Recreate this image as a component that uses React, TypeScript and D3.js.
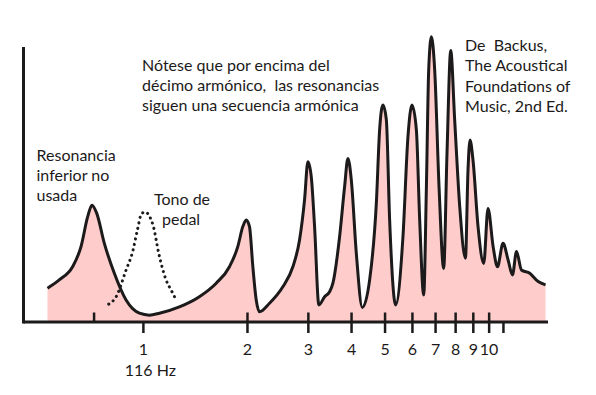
import React from "react";
import * as d3 from "d3";

// impedance curve (frequency in harmonics of 116 Hz, relative magnitude)
const curveFreq = [
  0.528, 0.571, 0.624, 0.66, 0.69, 0.71, 0.733, 0.771, 0.824, 0.891, 0.974, 1.041,
  1.113, 1.271, 1.452, 1.624, 1.774, 1.875, 1.939, 1.983, 2.027, 2.073, 2.12, 2.167,
  2.316, 2.531, 2.706, 2.829, 2.925, 2.991, 3.059, 3.127, 3.218, 3.343, 3.456, 3.533,
  3.694, 3.819, 3.904, 3.994, 4.129, 4.297, 4.512, 4.718, 4.822, 4.93, 5.043, 5.155,
  5.366, 5.633, 5.824, 5.983, 6.16, 6.297, 6.468, 6.585, 6.686, 6.808, 6.959, 7.163,
  7.389, 7.553, 7.743, 7.949, 8.222, 8.54, 8.688, 8.802, 8.981, 9.288, 9.647, 9.925,
  10.27, 10.57, 10.97, 11.35, 11.68, 12.0, 12.4, 13.11, 13.86, 14.56,
];
const curveAmp = [
  12.3, 15.3, 20.1, 27.4, 38.3, 42.5, 39.5, 28.6, 17.7, 8.0, 3.2, 2.5,
  3.2, 5.5, 9.2, 14.1, 20.1, 27.4, 34.7, 37.1, 34.7, 20.1, 8.0, 3.7,
  6.8, 12.8, 20.1, 29.8, 44.4, 58.3, 52.8, 34.7, 6.2, 9.2, 11.0, 14.1,
  31.0, 49.2, 59.5, 51.6, 25.0, 5.3, 15.3, 43.2, 69.8, 78.9, 73.5, 37.1,
  6.2, 31.0, 67.4, 78.9, 69.8, 37.1, 9.8, 49.2, 91.6, 103.7, 91.6, 49.2,
  19.5, 61.3, 98.7, 73.5, 41.9, 23.2, 55.3, 66.2, 58.9, 34.7, 21.3, 41.3,
  27.4, 20.1, 28.6, 22.5, 17.1, 25.6, 18.9, 17.7, 14.7, 13.5,
];

// pedal tone (dotted)
const pedalFreq = [0.794, 0.834, 0.891, 0.931, 0.961, 0.987, 1.013, 1.041, 1.069, 1.107, 1.163, 1.203, 1.244];
const pedalAmp = [6.5, 9.2, 18.9, 25.6, 33.5, 39.3, 40.0, 38.5, 34.7, 25.1, 15.3, 11.6, 8.0];

const tickValues = [0.72, 1, 2, 3, 4, 5, 6, 7, 8, 9, 10, 11];
const tickLabels = ["", "1", "2", "3", "4", "5", "6", "7", "8", "9", "10", ""];
const belowOnly = [1, 11];
const aboveOnly = [0.72];

const noteLines = ["Nótese que por encima del", "décimo armónico,  las resonancias", "siguen una secuencia armónica"];
const sourceLines = ["De  Backus,", "The Acoustical", "Foundations of", "Music, 2nd Ed."];
const lowLines = ["Resonancia", "inferior no", "usada"];
const pedalLines = ["Tono de", "pedal"];

const W = 596;
const H = 395;
const ink = "#1c1a1a";

export default function App() {
  const x = d3.scaleLog().domain([0.45, 14.8]).range([23.5, 548]);
  const y = d3.scaleLinear().domain([0, 100]).range([322, 47]);

  const pts: [number, number][] = curveFreq.map((f, i) => [f, curveAmp[i]]);
  const pedal: [number, number][] = pedalFreq.map((f, i) => [f, pedalAmp[i]]);

  const area = d3
    .area<[number, number]>()
    .x((d) => x(d[0]))
    .y0(y(0))
    .y1((d) => y(d[1]))
    .curve(d3.curveMonotoneX);
  const line = d3
    .line<[number, number]>()
    .x((d) => x(d[0]))
    .y((d) => y(d[1]))
    .curve(d3.curveMonotoneX);

  const font = { fontFamily: "Lato, sans-serif", fontSize: 16, fill: ink, style: { whiteSpace: "pre" as const } };

  return (
    <svg width={W} height={H} style={{ position: "absolute", left: 0, top: 0, background: "#fff" }}>
      <path d={area(pts) || ""} fill="#ffcccc" />
      <path d={line(pts) || ""} fill="none" stroke={ink} strokeWidth={3} strokeLinejoin="round" />
      <path
        d={line(pedal) || ""}
        fill="none"
        stroke={ink}
        strokeWidth={3}
        strokeLinecap="round"
        strokeDasharray="0.1 5.4"
      />

      {/* axes */}
      <line x1={x(0.45)} x2={x(0.45)} y1={y(100)} y2={y(0) + 1.5} stroke={ink} strokeWidth={3} />
      <line x1={x(0.45)} x2={x(14.8)} y1={y(0)} y2={y(0)} stroke={ink} strokeWidth={3} />
      {tickValues.map((v, i) => (
        <g key={v}>
          <line
            x1={x(v)}
            x2={x(v)}
            y1={belowOnly.includes(v) ? y(0) : y(0) - 9.5}
            y2={aboveOnly.includes(v) ? y(0) : y(0) + 11}
            stroke={ink}
            strokeWidth={2.5}
          />
          {tickLabels[i] && (
            <text x={x(v)} y={355} textAnchor="middle" {...font}>
              {tickLabels[i]}
            </text>
          )}
        </g>
      ))}
      <text x={x(1) + 7} y={376} textAnchor="middle" {...font}>
        116 Hz
      </text>

      {noteLines.map((t, i) => (
        <text key={t} x={142} y={71 + i * 20} {...font}>
          {t}
        </text>
      ))}
      {sourceLines.map((t, i) => (
        <text key={t} x={465} y={51 + i * 20.4} {...font}>
          {t}
        </text>
      ))}
      {lowLines.map((t, i) => (
        <text key={t} x={36.5} y={161 + i * 20} {...font}>
          {t}
        </text>
      ))}
      {pedalLines.map((t, i) => (
        <text key={t} x={i === 0 ? 154 : 162} y={205 + i * 20} {...font}>
          {t}
        </text>
      ))}
    </svg>
  );
}
